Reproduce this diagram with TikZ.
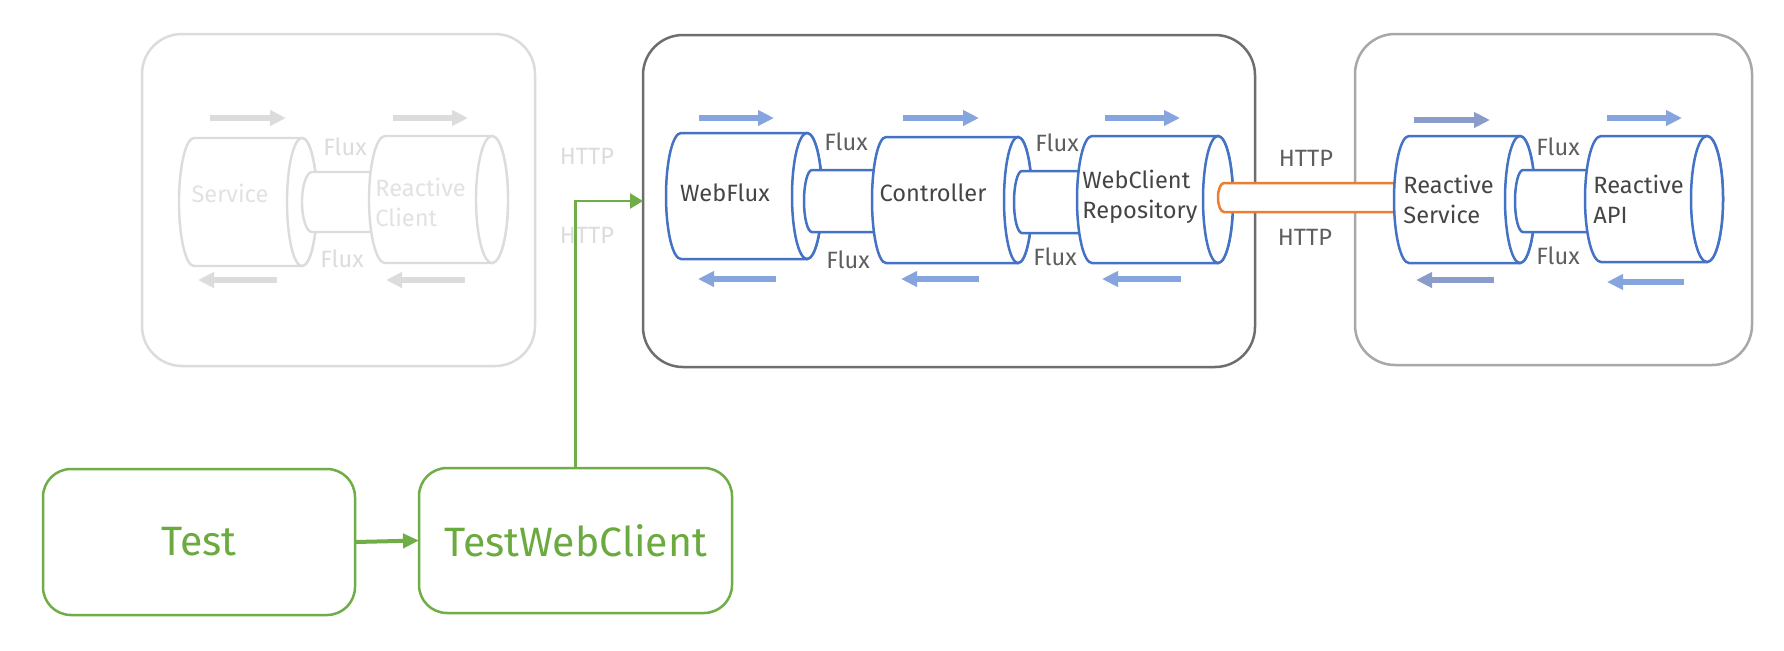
\documentclass[tikz,border=0pt]{standalone}
\usepackage{fontspec}
\setmainfont{Fira Sans}
\usetikzlibrary{arrows.meta}
\definecolor{cylblue}{HTML}{4472C4}
\definecolor{arrblue}{HTML}{86A5DE}
\definecolor{arrdark}{HTML}{8A9CC9}
\definecolor{pipeorange}{HTML}{ED7D31}
\definecolor{tgreen}{HTML}{70AD47}
\definecolor{tgreentext}{HTML}{6BAA3F}
\definecolor{ghost}{HTML}{DCDCDC}
\definecolor{ghosttxt}{HTML}{E2E2E2}
\definecolor{darkbox}{HTML}{6E6E6E}
\definecolor{midbox}{HTML}{A8A8A8}
\definecolor{cyltxt}{HTML}{454545}
\definecolor{labtxt}{HTML}{5E5E5E}
\newcommand\hcyl[6]{%
  \path[#1] (#2,#4-#6) -- (#3,#4-#6) arc[start angle=270,end angle=450,x radius=#5,y radius=#6]
    -- (#2,#4+#6) arc[start angle=90,end angle=270,x radius=#5,y radius=#6] -- cycle;
  \draw[#1] (#3,#4) ellipse[x radius=#5,y radius=#6];
}
\tikzset{
  container/.style={draw, line width=1.25pt, rounded corners=20pt, fill=none, inner sep=0, outer sep=0},
  cylghost/.style={draw=ghost, fill=white, line width=1.2pt},
  cylmain/.style={draw=cylblue, fill=white, line width=1.25pt},
  cylpipe/.style={draw=pipeorange, fill=white, line width=1.25pt},
  flowarrow/.style={line width=3pt, -{Triangle[length=8pt,width=7.5pt]}},
  cyltext/.style={font=\fontsize{11.8}{15}\selectfont, text=cyltxt, inner sep=0},
  ghosttext/.style={font=\fontsize{11.8}{15}\selectfont, text=ghosttxt, inner sep=0},
  lbl/.style={font=\fontsize{11.8}{15}\selectfont, text=labtxt, inner sep=0},
  ghostlbl/.style={font=\fontsize{11.8}{15}\selectfont, text=ghost, inner sep=0},
  testbox/.style={draw=tgreen, line width=1.25pt, rounded corners=14pt, minimum width=156pt,
    minimum height=73pt, text=tgreentext, font=\fontsize{20.5}{24}\selectfont, outer sep=0},
  greenarrow/.style={draw=tgreen, line width=1.25pt, -{Triangle[length=6.5pt,width=7.5pt]}},
}
\begin{document}
\begin{tikzpicture}[x=0.5pt,y=-0.5pt]
\useasboundingbox (0,0) rectangle (1784,650);
\fill[white] (0,0) rectangle (1784,650);

% containers
\node[container, draw=ghost, minimum width=196.5pt, minimum height=166pt] (clientbox) at (338.5,200) {};
\node[container, draw=darkbox, minimum width=306pt, minimum height=166pt] (mainbox) at (949,201) {};
\node[container, draw=midbox, minimum width=198.5pt, minimum height=165.5pt] (apibox) at (1553.5,199.5) {};

% ghost client
\hcyl{cylghost}{194}{302}{202}{15}{64}
\hcyl{cylghost}{312}{384}{202}{10}{30}
\hcyl{cylghost}{385}{492}{199.5}{16}{63.5}
\node[ghosttext] (svc) at (230,193) {Service};
\node[ghosttext, align=left, anchor=west] (rclient) at (375,202) {Reactive\\Client};
\node[ghostlbl] (gflux1) at (345,147) {Flux};
\node[ghostlbl] (gflux2) at (342,259) {Flux};
\draw[flowarrow, ghost] (210,118) -- (286,118);
\draw[flowarrow, ghost] (393,118) -- (468,118);
\draw[flowarrow, ghost] (277,280) -- (198,280);
\draw[flowarrow, ghost] (465,280) -- (386,280);
\node[ghostlbl] (ghttp1) at (587,156) {HTTP};
\node[ghostlbl] (ghttp2) at (587,235) {HTTP};

% main service
\hcyl{cylmain}{681}{807}{196}{15}{63}
\hcyl{cylmain}{812}{884}{201}{8}{31}
\hcyl{cylmain}{886}{1018}{200}{14}{63}
\hcyl{cylmain}{1022}{1090}{202}{8}{31}
\hcyl{cylmain}{1092}{1218}{199.5}{15}{63.5}
\hcyl{cylpipe}{1224}{1405}{197.5}{6}{14.5}
\node[cyltext] (webflux) at (725,193) {WebFlux};
\node[cyltext] (controller) at (933,193) {Controller};
\node[cyltext, align=left, anchor=west] (wcr) at (1082,197) {WebClient\\Repository};
\node[lbl] (mflux1) at (846,142) {Flux};
\node[lbl] (mflux2) at (848,260) {Flux};
\node[lbl] (mflux3) at (1057,143) {Flux};
\node[lbl] (mflux4) at (1055,257) {Flux};
\draw[flowarrow, arrblue] (699,118) -- (774,118);
\draw[flowarrow, arrblue] (903,118) -- (979,118);
\draw[flowarrow, arrblue] (1105,118) -- (1180,118);
\draw[flowarrow, arrblue] (776,279) -- (698,279);
\draw[flowarrow, arrblue] (979,279) -- (901,279);
\draw[flowarrow, arrblue] (1181,279) -- (1102,279);
\node[lbl] (http1) at (1306,158) {HTTP};
\node[lbl] (http2) at (1305,237) {HTTP};

% reactive API side
\hcyl{cylmain}{1409}{1520}{199.5}{15}{63.5}
\hcyl{cylmain}{1523}{1597}{201}{8}{31}
\hcyl{cylmain}{1601}{1707}{199}{16}{63}
\node[cyltext, align=left, anchor=west] (rsvc) at (1403,199) {Reactive\\Service};
\node[cyltext, align=left, anchor=west] (rapi) at (1593,199) {Reactive\\API};
\node[lbl] (rflux1) at (1558,147) {Flux};
\node[lbl] (rflux2) at (1558,256) {Flux};
\draw[flowarrow, arrdark] (1414,120) -- (1490,120);
\draw[flowarrow, arrblue] (1607,118) -- (1682,118);
\draw[flowarrow, arrdark] (1494,280) -- (1416,280);
\draw[flowarrow, arrblue] (1684,282) -- (1607,282);

% test
\node[testbox] (test) at (199,542) {Test};
\node[testbox, minimum width=156.5pt, minimum height=72.5pt] (twc) at (575.5,540.5) {TestWebClient};
\draw[draw=tgreen, line width=2pt, -{Triangle[length=8pt,width=7pt]}] (test.east) -- (twc.west);
\draw[greenarrow] (twc.north) |- (mainbox.west);
\end{tikzpicture}
\end{document}
